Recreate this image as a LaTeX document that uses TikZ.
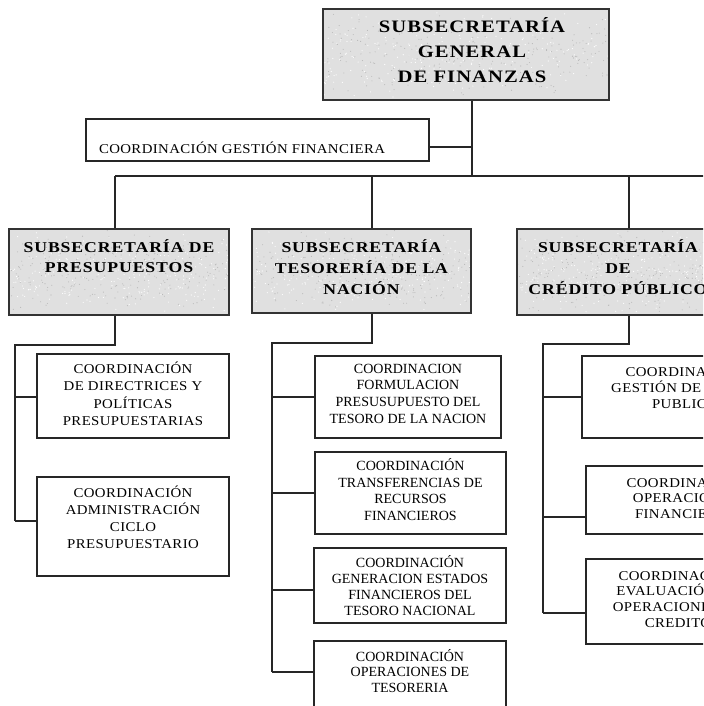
\documentclass[tikz,border=0pt]{standalone}
\usepackage{fontspec}
\usetikzlibrary{calc}
\setmainfont{Liberation Serif}
\newfontfamily\hdrface{Liberation Serif}[FakeStretch=1.18,LetterSpace=6]
\newfontfamily\trackface{Liberation Serif}[FakeStretch=1.1,LetterSpace=3]
\newdimen\pxu \pxu=0.75pt
% fonts of the chart
\newcommand\topfont{\hdrface\bfseries\fontsize{13.1pt}{16pt}\selectfont}
\newcommand\hdrfont{\hdrface\bfseries\fontsize{11.25pt}{14pt}\selectfont}
\newcommand\unitfont{\trackface\fontsize{10.1pt}{12pt}\selectfont}
\newcommand\midfont{\rmfamily\fontsize{10.5pt}{12pt}\selectfont}
% fixed-size box: width, height, first baseline, line pitch, font, lines
\newcommand\boxtext[6]{\parbox[c][#2][t]{#1}{#5\centering\lineskiplimit=-100pt\baselineskip=#4\relax\rule{0pt}{#3}#6\par}}
\begin{document}
\begin{tikzpicture}[x=0.75pt,y=-0.75pt,
  link/.style={draw=black!85,line width=0.8pt},
  granite/.style={path picture={
    \foreach \i in {1,...,260}{
      \fill[gray!55] let \p1=(path picture bounding box.south west), \p2=(path picture bounding box.north east)
        in (\x1+rnd*\x2-rnd*\x1, \y1+rnd*\y2-rnd*\y1) circle (0.55);
      \fill[white] let \p1=(path picture bounding box.south west), \p2=(path picture bounding box.north east)
        in (\x1+rnd*\x2-rnd*\x1, \y1+rnd*\y2-rnd*\y1) circle (0.6);}}},
  hdrbox/.style={draw=black!80,line width=0.9pt,fill=gray!24,inner sep=0pt,granite},
  unitbox/.style={draw=black!85,line width=0.8pt,fill=white,inner sep=0pt}]
\pgfmathsetseed{7}
\useasboundingbox (0,0) rectangle (703,706);
\clip (0,0) rectangle (703,706);
\fill[white] (0,0) rectangle (703,706);

% top level
\node[hdrbox] (gen) at (466,54.5)
  {\boxtext{286\pxu}{91\pxu}{24\pxu}{25\pxu}{\topfont}{\advance\leftskip 12\pxu SUBSECRETARÍA\\GENERAL\\DE FINANZAS}};
\node[unitbox] (cgf) at (257.5,140)
  {\parbox[c][42\pxu][t]{343\pxu}{\unitfont\leftskip=13\pxu\rule{0pt}{34\pxu}COORDINACIÓN GESTIÓN FINANCIERA\par}};

% second level
\node[hdrbox] (pres) at (119,272)
  {\boxtext{220\pxu}{86\pxu}{23\pxu}{20\pxu}{\hdrfont}{SUBSECRETARÍA DE\\PRESUPUESTOS}};
\node[hdrbox] (teso) at (361.5,271)
  {\boxtext{219\pxu}{84\pxu}{23\pxu}{21\pxu}{\hdrfont}{SUBSECRETARÍA\\TESORERÍA DE LA\\NACIÓN}};
\node[hdrbox] (cred) at (618,272)
  {\boxtext{202\pxu}{86\pxu}{23\pxu}{21\pxu}{\hdrfont}{SUBSECRETARÍA\\DE\\CRÉDITO PÚBLICO}};

% budget units
\node[unitbox] (ua) at (133,396)
  {\boxtext{192\pxu}{84\pxu}{19\pxu}{17.5\pxu}{\unitfont}{COORDINACIÓN\\DE DIRECTRICES Y\\POLÍTICAS\\PRESUPUESTARIAS}};
\node[unitbox] (ub) at (133,526.5)
  {\boxtext{192\pxu}{99\pxu}{20\pxu}{17\pxu}{\unitfont}{COORDINACIÓN\\ADMINISTRACIÓN\\CICLO\hspace*{24\pxu}\\PRESUPUESTARIO}};

% treasury units
\node[unitbox] (uc) at (408,397)
  {\boxtext{186\pxu}{82\pxu}{17\pxu}{16.7\pxu}{\midfont}{COORDINACION\\FORMULACION\\PRESUSUPUESTO DEL\\TESORO DE LA NACION}};
\node[unitbox] (ud) at (410.5,493)
  {\boxtext{191\pxu}{82\pxu}{18.7\pxu}{16.5\pxu}{\midfont}{COORDINACIÓN\\TRANSFERENCIAS DE\\RECURSOS\\FINANCIEROS}};
\node[unitbox] (ue) at (410,585.5)
  {\boxtext{192\pxu}{75\pxu}{19\pxu}{16\pxu}{\midfont}{COORDINACIÓN\\GENERACION ESTADOS\\FINANCIEROS DEL\\TESORO NACIONAL}};
\node[unitbox] (uf) at (410,688)
  {\boxtext{192\pxu}{94\pxu}{20\pxu}{15.5\pxu}{\midfont}{COORDINACIÓN\\OPERACIONES DE\\TESORERIA}};

% public credit units
\node[unitbox] (ug) at (685,397)
  {\boxtext{206\pxu}{82\pxu}{20\pxu}{16\pxu}{\unitfont}{COORDINACIÓN\\GESTIÓN DE DEUDA\\PUBLICA}};
\node[unitbox] (uh) at (686,500)
  {\boxtext{200\pxu}{68\pxu}{21\pxu}{15.5\pxu}{\unitfont}{COORDINACIÓN\hspace*{22\pxu}\\OPERACIONES\\FINANCIERAS}};
\node[unitbox] (ui) at (678,601.5)
  {\boxtext{184\pxu}{85\pxu}{21\pxu}{15.7\pxu}{\unitfont}{COORDINACIÓN\\EVALUACIÓN DE\\OPERACIONES DE\\CREDITO}};

% trunk and bus
\coordinate (spine) at (472,176);
\coordinate (d1) at (115,176);
\coordinate (d2) at (372,176);
\coordinate (d3) at (629,176);
\coordinate (busend) at (720,176);
\coordinate (tap) at (472,147);
\draw[link] (gen.south -| spine) -- (spine);
\draw[link] (cgf.east |- tap) -- (tap);
\draw[link] (d1) -- (busend);
\draw[link] (d1) -- (d1 |- pres.north);
\draw[link] (d2) -- (d2 |- teso.north);
\draw[link] (d3) -- (d3 |- cred.north);

% rails below each undersecretariat
\coordinate (k1) at (115,345);  \coordinate (rl) at (15,345);
\coordinate (k2) at (372,343);  \coordinate (rm) at (272,343);
\coordinate (k3) at (629,344);  \coordinate (rr) at (543,344);
\draw[link] (d1 |- pres.south) -- (k1) -- (rl) -- (15,521);
\draw[link] (d2 |- teso.south) -- (k2) -- (rm) -- (272,672);
\draw[link] (d3 |- cred.south) -- (k3) -- (rr) -- (543,613);

% branches into the units
\coordinate (ba) at (15,397);   \draw[link] (ba) -- (ba -| ua.west);
\coordinate (bb) at (15,521);   \draw[link] (bb) -- (bb -| ub.west);
\coordinate (bc) at (272,397);  \draw[link] (bc) -- (bc -| uc.west);
\coordinate (bd) at (272,493);  \draw[link] (bd) -- (bd -| ud.west);
\coordinate (be) at (272,590);  \draw[link] (be) -- (be -| ue.west);
\coordinate (bf) at (272,672);  \draw[link] (bf) -- (bf -| uf.west);
\coordinate (bg) at (543,397);  \draw[link] (bg) -- (bg -| ug.west);
\coordinate (bh) at (543,517);  \draw[link] (bh) -- (bh -| uh.west);
\coordinate (bi) at (543,613);  \draw[link] (bi) -- (bi -| ui.west);
\end{tikzpicture}
\end{document}
